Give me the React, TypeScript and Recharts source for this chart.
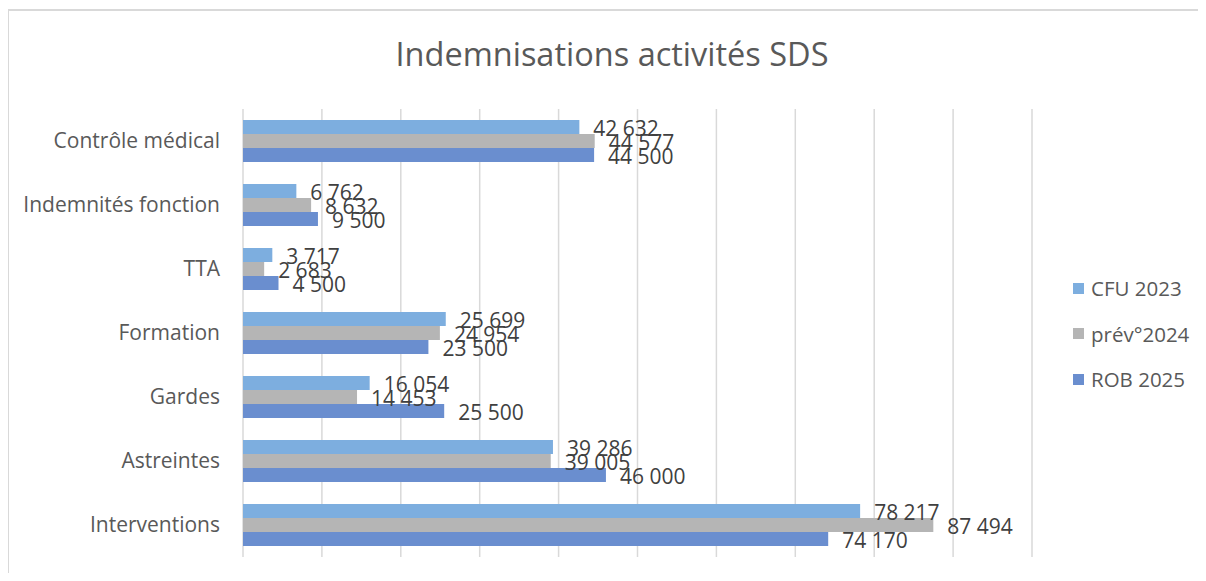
import React from "react";
import { BarChart, Bar, XAxis, YAxis, CartesianGrid, LabelList } from "recharts";

const categories = [
  "Contrôle médical",
  "Indemnités fonction",
  "TTA",
  "Formation",
  "Gardes",
  "Astreintes",
  "Interventions",
];
const cfu2023 = [42632, 6762, 3717, 25699, 16054, 39286, 78217];
const prev2024 = [44577, 8632, 2683, 24954, 14453, 39005, 87494];
const rob2025 = [44500, 9500, 4500, 23500, 25500, 46000, 74170];
const xTicks = [0, 10000, 20000, 30000, 40000, 50000, 60000, 70000, 80000, 90000, 100000];

const series = [
  { key: "cfu", name: "CFU 2023", color: "#7DAEDF" },
  { key: "prev", name: "prév°2024", color: "#B5B5B5" },
  { key: "rob", name: "ROB 2025", color: "#6A8ECF" },
];

const data = categories.map((name, i) => ({
  name,
  cfu: cfu2023[i],
  prev: prev2024[i],
  rob: rob2025[i],
}));

const fmt = (v: any) => String(v).replace(/\B(?=(\d{3})+(?!\d))/g, " ");

const font = "'Open Sans', 'Noto Sans', sans-serif";

export default function App() {
  return (
    <div
      style={{
        position: "relative",
        width: 1198,
        height: 565,
        overflow: "hidden",
        fontFamily: font,
      }}
    >
      <div
        style={{
          position: "absolute",
          left: -1,
          top: 1,
          width: 1300,
          height: 700,
          border: "2px solid #d9d9d9",
          boxSizing: "border-box",
        }}
      />
      <div
        style={{
          position: "absolute",
          left: 0,
          width: 1208,
          top: 23,
          textAlign: "center",
          fontSize: 32.5,
          color: "#595959",
        }}
      >
        Indemnisations activités SDS
      </div>
      <div style={{ position: "absolute", left: 0, top: 0 }}>
        <BarChart
          width={1198}
          height={565}
          data={data}
          layout="vertical"
          margin={{ top: 101, right: 174, left: 0, bottom: 16 }}
          barCategoryGap={11}
          barGap={0}
        >
          <CartesianGrid horizontal={false} stroke="#d9d9d9" strokeWidth={1.5} />
          <XAxis
            type="number"
            domain={[0, 100000]}
            ticks={xTicks}
            interval={0}
            tick={() => <g />}
            axisLine={false}
            tickLine={false}
            height={0}
          />
          <YAxis
            type="category"
            dataKey="name"
            width={235}
            axisLine={false}
            tickLine={false}
            tickSize={0}
            tickMargin={23}
            tick={{ fill: "#595959", fontSize: 21, fontFamily: font }}
          />
          {series.map((s) => (
            <Bar
              key={s.key}
              dataKey={s.key}
              name={s.name}
              fill={s.color}
              isAnimationActive={false}
            >
              <LabelList
                dataKey={s.key}
                position="right"
                offset={14}
                formatter={fmt}
                style={{ fill: "#404040", fontSize: 21, fontFamily: font }}
                dy={1.5}
              />
            </Bar>
          ))}
        </BarChart>
      </div>
      {series.map((s, i) => (
        <div
          key={s.key}
          style={{
            position: "absolute",
            left: 1065,
            top: 267 + i * 45.5,
            display: "flex",
            alignItems: "center",
            fontSize: 20.5,
            color: "#595959",
            lineHeight: "26px",
          }}
        >
          <span
            style={{
              display: "inline-block",
              width: 11,
              height: 11,
              background: s.color,
              marginRight: 7,
            }}
          />
          {s.name}
        </div>
      ))}
    </div>
  );
}
